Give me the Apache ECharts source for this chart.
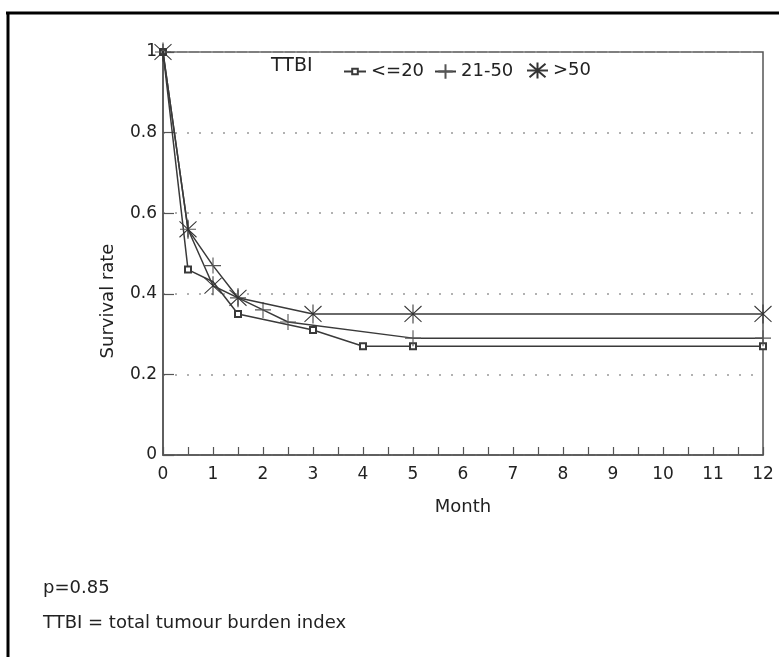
<!DOCTYPE html>
<html>
<head>
<meta charset="utf-8">
<script src="https://cdn.jsdelivr.net/npm/echarts@6/dist/echarts.min.js"></script>
<style>
html,body{margin:0;padding:0;background:#ffffff;}
#chart{width:779px;height:657px;}
</style>
</head>
<body>
<div id="chart"></div>
<script>
// Data
const seriesNames = ['<=20', '21-50', '>50'];
const monthsLe20 = [0, 0.5, 1, 1.5, 3, 4, 5, 12];
const survLe20   = [1, 0.46, 0.43, 0.35, 0.31, 0.27, 0.27, 0.27];
const months21to50 = [0, 0.5, 1, 1.5, 2, 2.5, 5, 12];
const surv21to50   = [1, 0.56, 0.47, 0.39, 0.36, 0.33, 0.29, 0.29];
const monthsGt50 = [0, 0.5, 1, 1.5, 3, 5, 12];
const survGt50   = [1, 0.56, 0.42, 0.39, 0.35, 0.35, 0.35];
const xTicks = [0,1,2,3,4,5,6,7,8,9,10,11,12];
const yTicks = [0, 0.2, 0.4, 0.6, 0.8, 1];

const FONT = 'DejaVu Sans';
const INK = '#3a3a3a';
const pair = (xs, ys) => xs.map((x, i) => [x, ys[i]]);
// the <=20 point at month 1 is hidden under the >50 marker in the reference
const pairHidden = (xs, ys, hideX) => xs.map((x, i) =>
  hideX.indexOf(x) >= 0 ? {value: [x, ys[i]], symbol: 'none'} : [x, ys[i]]);

const PLUS = 'path://M0,10L20,10M10,0L10,20';
const STAR = 'path://M0,2L20,22M20,2L0,22M10,0L10,24';

const chart = echarts.init(document.getElementById('chart'), null, {renderer: 'canvas'});

const legendBase = {
  orient: 'horizontal',
  textStyle: {fontFamily: FONT, fontSize: 18, color: '#222'},
  itemGap: 5,
  selectedMode: false
};

chart.setOption({
  backgroundColor: '#ffffff',
  animation: false,
  grid: {left: 163, top: 52, width: 600, height: 403, show: true,
         borderColor: '#555', borderWidth: 1.5, backgroundColor: 'transparent'},
  legend: [
    Object.assign({}, legendBase, {data: [seriesNames[0]], left: 338, top: 57.5, itemWidth: 22, itemHeight: 7}),
    Object.assign({}, legendBase, {data: [seriesNames[1]], left: 429, top: 57.5, itemWidth: 21, itemHeight: 18}),
    Object.assign({}, legendBase, {data: [seriesNames[2]], left: 521, top: 56.5, itemWidth: 21, itemHeight: 20})
  ],
  xAxis: {
    type: 'value', min: 0, max: 12, interval: 1,
    axisLine: {lineStyle: {color: '#555', width: 1.5}},
    axisTick: {show: true, inside: true, length: 8, lineStyle: {color: '#555', width: 1.2}},
    minorTick: {show: true, splitNumber: 2, length: 8, lineStyle: {color: '#555', width: 1.2}},
    axisLabel: {fontFamily: FONT, fontSize: 17, color: '#222', margin: 11,
                formatter: v => xTicks.indexOf(v) >= 0 ? String(v) : ''},
    splitLine: {show: false}
  },
  yAxis: {
    type: 'value', min: 0, max: 1, interval: 0.2,
    axisLine: {show: true, lineStyle: {color: '#555', width: 1.5}},
    axisTick: {show: true, inside: true, length: 11, lineStyle: {color: '#555', width: 1.2}},
    axisLabel: {fontFamily: FONT, fontSize: 17, color: '#222', margin: 6,
                formatter: v => (v === 0 || v === 1) ? String(v) : v.toFixed(1)},
    splitLine: {show: true, lineStyle: {color: '#999', width: 1.5, type: [2, 10]}}
  },
  series: [
    {
      name: seriesNames[0], type: 'line', data: pairHidden(monthsLe20, survLe20, [1]),
      symbol: 'emptyRect', symbolSize: 6, showAllSymbol: true,
      lineStyle: {color: INK, width: 1.5},
      itemStyle: {color: INK, borderColor: INK, borderWidth: 1.2},
      z: 3
    },
    {
      name: seriesNames[1], type: 'line', data: pair(months21to50, surv21to50),
      symbol: PLUS, symbolSize: 16, showAllSymbol: true,
      lineStyle: {color: INK, width: 1.5},
      itemStyle: {color: 'rgba(0,0,0,0)', borderColor: '#555', borderWidth: 1.1},
      z: 4
    },
    {
      name: seriesNames[2], type: 'line', data: pair(monthsGt50, survGt50),
      symbol: STAR, symbolSize: [17, 19], showAllSymbol: true,
      lineStyle: {color: INK, width: 1.5},
      itemStyle: {color: 'rgba(0,0,0,0)', borderColor: '#333', borderWidth: 1.1},
      z: 5
    }
  ],
  graphic: [
    {type: 'line', shape: {x1: 6, y1: 13, x2: 779, y2: 13}, style: {stroke: '#000', lineWidth: 3}},
    {type: 'line', shape: {x1: 8, y1: 12, x2: 8, y2: 657}, style: {stroke: '#000', lineWidth: 3}},
    {type: 'text', left: 271, top: 57, style: {text: 'TTBI', font: '19px "DejaVu Sans"', fill: '#222'}},
    {type: 'text', x: 108, y: 301, rotation: Math.PI / 2,
     style: {text: 'Survival rate', font: '18px "DejaVu Sans"', fill: '#222', align: 'center', verticalAlign: 'middle'}},
    {type: 'text', x: 463, y: 507,
     style: {text: 'Month', font: '18px "DejaVu Sans"', fill: '#222', align: 'center', verticalAlign: 'middle'}},
    {type: 'text', x: 43, y: 588,
     style: {text: 'p=0.85', font: '18px "DejaVu Sans"', fill: '#222', align: 'left', verticalAlign: 'middle'}},
    {type: 'text', x: 43, y: 623,
     style: {text: 'TTBI = total tumour burden index', font: '18px "DejaVu Sans"', fill: '#222', align: 'left', verticalAlign: 'middle'}}
  ]
});
</script>
</body>
</html>
